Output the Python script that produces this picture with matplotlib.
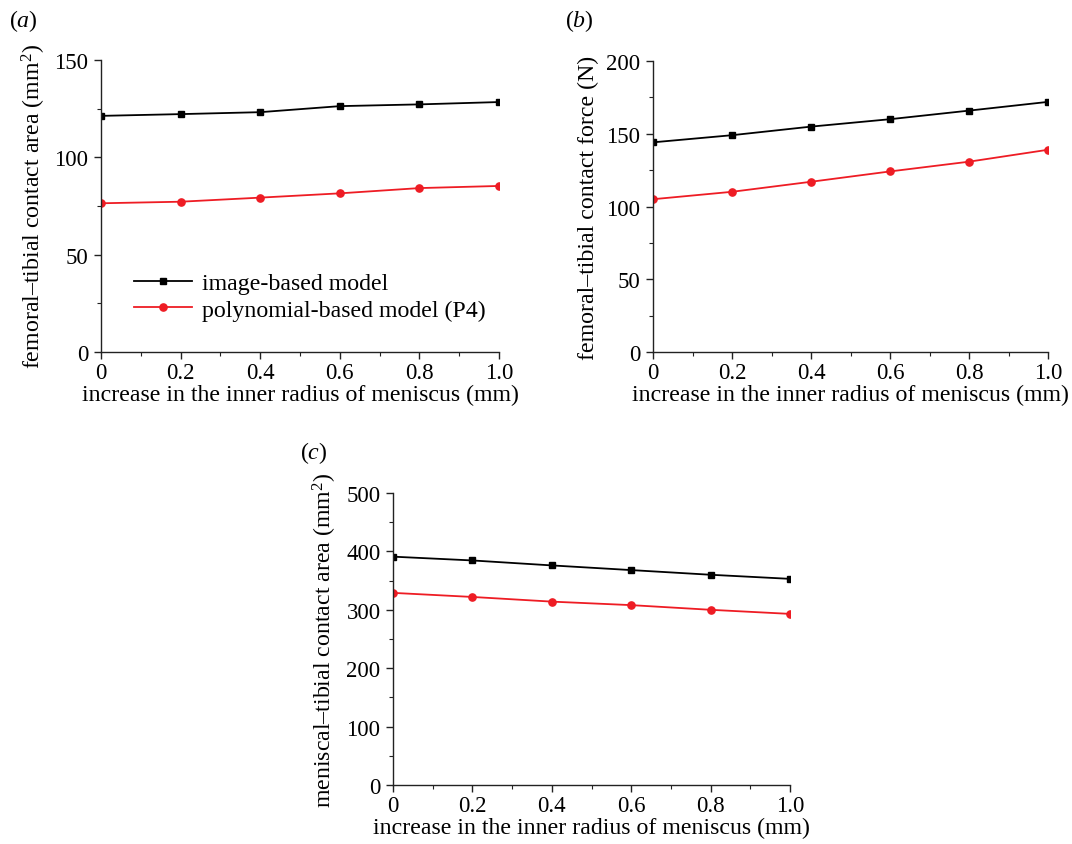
import matplotlib
matplotlib.use('Agg')
import matplotlib.pyplot as plt
from matplotlib.ticker import MultipleLocator, FixedLocator

plt.rcParams['font.family'] = ['Liberation Serif', 'DejaVu Serif']
plt.rcParams['mathtext.fontset'] = 'custom'
plt.rcParams['mathtext.rm'] = 'Liberation Serif'
plt.rcParams['mathtext.it'] = 'Liberation Serif:italic'

# increase in inner radius (mm)
radius = [0, 0.2, 0.4, 0.6, 0.8, 1.0]

# (a) femoral-tibial contact area (mm^2)
area_image = [121.3, 122.2, 123.2, 126.3, 127.2, 128.4]
area_poly = [76.4, 77.2, 79.3, 81.5, 84.2, 85.3]

# (b) femoral-tibial contact force (N)
force_image = [144.1, 149.0, 154.9, 160.0, 165.9, 171.9]
force_poly = [105.0, 110.1, 117.0, 124.1, 130.8, 139.0]

# (c) meniscal-tibial contact area (mm^2)
men_image = [391, 384.5, 376, 368, 360, 353]
men_poly = [329, 322, 314, 308, 300, 293]

x_ticklabels = ['0', '0.2', '0.4', '0.6', '0.8', '1.0']
legend_labels = ['image-based model', 'polynomial-based model (P4)']

W, H = 1072, 845
TICK_FS = 16.5
LABEL_FS = 17.2
fig = plt.figure(figsize=(W / 100, H / 100), dpi=100)


def px_axes(left, top, right, bottom):
    return fig.add_axes([left / W, 1 - bottom / H, (right - left) / W, (bottom - top) / H])


def style(ax, ymax, ymajor, yminor, ylabel):
    for s in ['top', 'right']:
        ax.spines[s].set_visible(False)
    for s in ['left', 'bottom']:
        ax.spines[s].set_color('#222222')
        ax.spines[s].set_linewidth(1.0)
    ax.set_xlim(0, 1.0)
    ax.set_ylim(0, ymax)
    ax.xaxis.set_major_locator(FixedLocator(radius))
    ax.set_xticklabels(x_ticklabels)
    ax.xaxis.set_minor_locator(MultipleLocator(0.1))
    ax.yaxis.set_major_locator(MultipleLocator(ymajor))
    ax.yaxis.set_minor_locator(MultipleLocator(yminor))
    ax.tick_params(which='major', direction='out', length=5, width=1.0,
                   labelsize=TICK_FS, color='#222222')
    ax.tick_params(axis='x', which='major', pad=2.5)
    ax.tick_params(axis='y', which='major', pad=4)
    ax.tick_params(which='minor', direction='out', length=3, width=0.8, color='#222222')
    ax.set_xlabel('increase in the inner radius of meniscus (mm)', fontsize=LABEL_FS, labelpad=0)
    ax.set_ylabel(ylabel, fontsize=LABEL_FS, labelpad=5)


def plot_pair(ax, yi, yp):
    ax.plot(radius, yi, color='black', lw=1.3, marker='s', ms=4.5, label=legend_labels[0])
    ax.plot(radius, yp, color='#ee1c24', lw=1.3, marker='o', ms=5.2, label=legend_labels[1])


ax_a = px_axes(101, 61, 499, 353)
plot_pair(ax_a, area_image, area_poly)
style(ax_a, 150, 50, 25, 'femoral\u2013tibial contact area (mm$^2$)')
ax_a.legend(loc='center left', bbox_to_anchor=(0.06, 0.19), frameon=False,
            fontsize=LABEL_FS, handlelength=2.4, handletextpad=0.42, labelspacing=0.2,
            borderaxespad=0)

ax_b = px_axes(653, 62, 1048, 353)
plot_pair(ax_b, force_image, force_poly)
style(ax_b, 200, 50, 25, 'femoral\u2013tibial contact force (N)')

ax_c = px_axes(393, 494, 790, 786)
plot_pair(ax_c, men_image, men_poly)
style(ax_c, 500, 100, 50, 'meniscal\u2013tibial contact area (mm$^2$)')

fig.text(9 / W, 1 - 21 / H, '($\\mathit{a}$)', fontsize=LABEL_FS, va='center', ha='left')
fig.text(565 / W, 1 - 21 / H, '($\\mathit{b}$)', fontsize=LABEL_FS, va='center', ha='left')
fig.text(300 / W, 1 - 453 / H, '($\\mathit{c}$)', fontsize=LABEL_FS, va='center', ha='left')

fig.savefig('out.png', dpi=100)
